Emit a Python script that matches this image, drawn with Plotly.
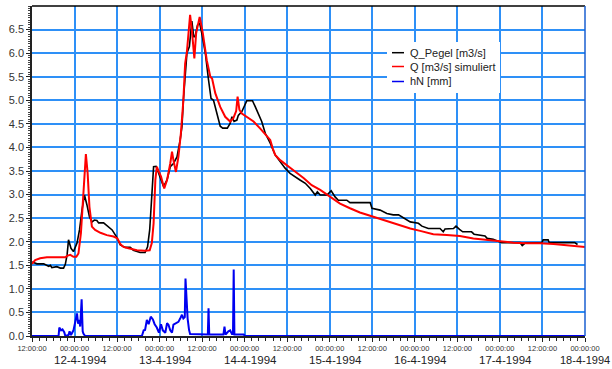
import pandas as pd
import plotly.graph_objects as go

START = pd.Timestamp("1994-04-11 12:00")

# hours since 11-4-1994 12:00
pegel_hours = [0, 1.4, 3.3, 4.7, 5.2, 5.6, 7.0, 8.0, 8.9, 9.4, 9.9, 10.3, 11.0, 11.7, 12.7, 13.4, 14.1,
               14.8, 15.5, 16.2, 16.9, 17.6, 18.3, 18.8, 20.2, 21.1, 22.6, 23.8, 24.9, 26.3, 27.7, 28.6,
               30.5, 31.9, 32.6, 33.2, 33.8, 34.3, 35.0, 35.7, 36.4, 37.1, 38.1, 39.0, 39.9, 40.9, 41.8,
               42.3, 42.7, 43.2, 43.7, 44.4, 45.1, 45.6, 46.0, 46.7, 47.3, 47.9, 48.9, 49.8, 50.5, 51.2,
               52.2, 53.1, 53.8, 55.1, 55.9, 56.4, 57.0, 57.8, 58.2, 59.2, 60.6, 62.2, 63.0, 63.9, 64.8,
               65.8, 67.2, 68.6, 70.0, 71.4, 72.8, 74.2, 75.6, 77.1, 78.5, 79.9, 80.5, 81.3, 83.2, 84.4,
               85.5, 86.4, 88.8, 89.7, 95.4, 95.9, 98.2, 100.1, 101.9, 103.4, 104.6, 106.7, 109.0, 110.0,
               111.8, 115.1, 116.0, 116.5, 118.9, 119.6, 120.6, 121.5, 124.0, 124.7, 127.8, 128.4, 130.1,
               132.5, 137.7, 138.3, 139.1, 143.8, 144.2, 145.6, 145.9, 153.1, 153.9]
pegel_values = [1.57, 1.53, 1.53, 1.48, 1.50, 1.45, 1.47, 1.44, 1.44, 1.52, 1.72, 2.04, 1.86, 1.79, 1.97,
                2.25, 2.67, 2.99, 2.78, 2.53, 2.42, 2.46, 2.45, 2.40, 2.40, 2.35, 2.25, 2.11, 1.93, 1.88,
                1.88, 1.82, 1.77, 1.77, 1.89, 2.25, 3.00, 3.59, 3.60, 3.45, 3.31, 3.17, 3.31, 3.59, 3.66,
                3.80, 4.16, 4.44, 5.00, 5.57, 6.00, 6.14, 6.68, 6.35, 6.35, 6.60, 6.63, 6.42, 6.00, 5.43,
                5.04, 5.00, 4.72, 4.45, 4.41, 4.41, 4.51, 4.65, 4.55, 4.58, 4.68, 4.76, 4.99, 4.99, 4.86,
                4.72, 4.55, 4.30, 4.09, 3.84, 3.70, 3.56, 3.45, 3.37, 3.31, 3.24, 3.13, 2.99, 3.06, 2.99,
                2.99, 3.08, 2.95, 2.88, 2.88, 2.83, 2.83, 2.71, 2.67, 2.60, 2.57, 2.57, 2.51, 2.42, 2.39,
                2.33, 2.28, 2.28, 2.21, 2.27, 2.28, 2.33, 2.26, 2.21, 2.21, 2.16, 2.12, 2.07, 2.05, 1.98,
                1.98, 1.92, 1.97, 1.98, 2.04, 2.04, 1.98, 1.98, 1.94]

sim_hours = [0, 0.9, 2.3, 4.2, 9.4, 9.9, 10.8, 11.7, 12.5, 13.1, 13.8, 14.4, 14.8, 15.2, 15.7, 16.2, 16.9,
             17.8, 19.3, 21.1, 23.0, 24.1, 24.9, 25.8, 27.2, 29.6, 31.9, 33.2, 33.8, 34.3, 34.8, 35.2,
             36.0, 36.4, 37.3, 38.1, 39.0, 39.5, 39.9, 40.6, 41.3, 42.0, 42.7, 43.2, 43.7, 44.1, 44.6,
             45.1, 45.8, 46.3, 47.3, 48.2, 49.3, 50.3, 50.8, 51.7, 53.1, 54.5, 55.9, 56.8, 57.6, 58.0,
             58.5, 59.2, 60.6, 62.5, 64.4, 66.3, 67.2, 67.9, 68.6, 70.0, 71.9, 74.2, 76.6, 78.9, 81.3,
             84.1, 86.9, 89.7, 92.5, 95.4, 98.2, 101.0, 103.8, 106.7, 109.5, 113.2, 117.0, 120.7, 124.5,
             128.3, 132.0, 135.8, 139.6, 143.3, 147.1, 150.9, 156.0]
sim_values = [1.53, 1.61, 1.65, 1.67, 1.67, 1.70, 1.72, 1.68, 1.68, 1.75, 2.18, 2.88, 3.45, 3.86, 3.45,
              2.74, 2.32, 2.25, 2.19, 2.14, 2.11, 2.07, 1.95, 1.89, 1.86, 1.82, 1.81, 1.82, 1.97, 2.39,
              3.31, 3.59, 3.45, 3.38, 3.13, 3.31, 3.66, 3.91, 3.73, 3.48, 3.80, 4.30, 5.00, 5.78, 6.03,
              6.42, 6.81, 6.49, 5.89, 6.42, 6.77, 6.42, 5.85, 5.50, 5.46, 5.15, 4.86, 4.65, 4.55, 4.62,
              4.77, 5.08, 4.80, 4.72, 4.65, 4.55, 4.40, 4.23, 4.16, 3.98, 3.84, 3.73, 3.63, 3.49, 3.35,
              3.20, 3.10, 2.95, 2.81, 2.71, 2.62, 2.55, 2.48, 2.41, 2.35, 2.28, 2.23, 2.16, 2.14, 2.12,
              2.07, 2.04, 2.00, 1.98, 1.97, 1.97, 1.95, 1.93, 1.89]

rain_hours = [0, 7.5, 7.7, 8.2, 8.6, 9.1, 9.4, 10.3, 10.6, 11.0, 11.7, 12.2, 12.7, 13.0, 13.3, 13.6, 14.0,
              14.3, 14.5, 15.0, 31.0, 31.5, 31.9, 32.4, 32.9, 33.5, 34.1, 34.6, 35.2, 35.8, 36.4, 36.9,
              37.6, 38.1, 38.5, 39.0, 39.5, 39.9, 40.7, 41.3, 41.8, 42.3, 42.7, 43.1, 43.3, 43.5, 43.9,
              44.3, 44.6, 49.6, 49.8, 50.0, 54.0, 54.3, 54.6, 55.4, 55.9, 56.4, 56.7, 56.9, 57.1, 59.7,
              60.1, 156.0]
rain_values = [0, 0, 0.18, 0.12, 0.14, 0.08, 0, 0.02, 0.10, 0.02, 0.12, 0.30, 0.48, 0.26, 0.34, 0.20,
               0.78, 0.10, 0.05, 0, 0, 0.12, 0.13, 0.34, 0.25, 0.41, 0.35, 0.25, 0.18, 0.07, 0.25, 0.12,
               0.07, 0.27, 0.24, 0.12, 0.07, 0.24, 0.27, 0.30, 0.37, 0.45, 0.37, 0.40, 1.22, 0.86, 0.37,
               0.13, 0.04, 0.03, 0.59, 0.03, 0.03, 0.20, 0.03, 0.10, 0.12, 0.04, 0.04, 1.41, 0.03, 0.03,
               0, 0]

tick_hours = list(range(0, 157, 12))
tick_labels = ["12:00:00" if h % 24 == 0 else "00:00:00" for h in tick_hours]
date_hours = [12, 36, 60, 84, 108, 132, 156]
date_labels = ["12-4-1994", "13-4-1994", "14-4-1994", "15-4-1994", "16-4-1994", "17-4-1994", "18-4-1994"]
y_ticks = [0.0, 0.5, 1.0, 1.5, 2.0, 2.5, 3.0, 3.5, 4.0, 4.5, 5.0, 5.5, 6.0, 6.5]

series_names = ["Q_Pegel [m3/s]", "Q [m3/s] simuliert", "hN [mm]"]
series_colors = ["#000000", "#ff0000", "#0000f0"]


def to_time(hours):
    return [START + pd.Timedelta(hours=h) for h in hours]


FONT = "Liberation Sans, Arial, sans-serif"
GRID = "#2e90f7"

fig = go.Figure()
fig.add_trace(go.Scatter(x=to_time(pegel_hours), y=pegel_values, mode="lines",
                         line=dict(color=series_colors[0], width=1.6, shape="linear"),
                         name=series_names[0], showlegend=False))
fig.add_trace(go.Scatter(x=to_time(sim_hours), y=sim_values, mode="lines",
                         line=dict(color=series_colors[1], width=2), name=series_names[1],
                         showlegend=False))
fig.add_trace(go.Scatter(x=to_time(rain_hours), y=rain_values, mode="lines",
                         line=dict(color=series_colors[2], width=2), name=series_names[2],
                         showlegend=False, cliponaxis=False))

fig.update_layout(
    width=612, height=369,
    margin=dict(l=32, r=27, t=6, b=33),
    paper_bgcolor="white", plot_bgcolor="white",
    font=dict(family=FONT, color="#333"),
)

fig.update_xaxes(
    type="date",
    range=[START, START + pd.Timedelta(hours=156)],
    tickvals=to_time(tick_hours), ticktext=tick_labels,
    tickfont=dict(size=7.5, color="#333"),
    ticks="outside", ticklen=4, tickcolor="#222", tickwidth=1,
    showgrid=True, gridcolor=GRID, gridwidth=1.6,
    showline=True, linecolor="#222", linewidth=1.5,
    minor=dict(dtick=2 * 3600000, tick0=START, ticks="outside", ticklen=3,
               tickcolor="#222", showgrid=False),
    zeroline=False,
)
fig.update_yaxes(
    range=[0, 7.0],
    tickvals=y_ticks, ticktext=[f"{v:.1f}" for v in y_ticks],
    tickfont=dict(size=11, color="#333"),
    ticks="outside", ticklen=4, tickcolor="#222",
    showgrid=True, gridcolor=GRID, gridwidth=1.6,
    showline=True, linecolor="#222", linewidth=1.5,
    minor=dict(dtick=0.05, ticks="outside", ticklen=2.5, tickcolor="#444", showgrid=False),
    zeroline=False,
)

# plot frame (top and right)
fig.add_shape(type="line", xref="paper", yref="paper", x0=0, x1=1, y0=1, y1=1,
              line=dict(color="black", width=1.5))
fig.add_shape(type="line", xref="paper", yref="paper", x0=1, x1=1, y0=0, y1=1,
              line=dict(color="#1a5fd0", width=1.5))

# date labels under midnight ticks
for h, lab in zip(date_hours, date_labels):
    shift = 5.5 if h < 156 else 0
    fig.add_annotation(x=START + pd.Timedelta(hours=h), y=-0.0727, xref="x", yref="paper",
                       text=lab, showarrow=False, xanchor="center", yanchor="middle",
                       xshift=shift, font=dict(size=11.5 if h < 156 else 11, color="#222", family=FONT))

# legend box
W, H = 553.0, 330.0
def px(x):
    return (x - 32) / W
def py(y):
    return (336 - y) / H

fig.add_shape(type="rect", xref="paper", yref="paper", x0=px(387), x1=px(500), y0=py(93), y1=py(42),
              fillcolor="white", line=dict(width=0), layer="above")
rows = [52.7, 66.5, 81.5]
for name, col, ry in zip(series_names, series_colors, rows):
    fig.add_shape(type="line", xref="paper", yref="paper", x0=px(392), x1=px(404), y0=py(ry), y1=py(ry),
                  line=dict(color=col, width=1.5), layer="above")
    fig.add_annotation(x=px(407.5), y=py(ry), xref="paper", yref="paper", text=name, showarrow=False,
                       xanchor="left", yanchor="middle", font=dict(size=11, color="#222", family=FONT))

fig.write_html("out.html", config={"displayModeBar": False},
               post_script="document.body.style.margin='0';document.body.style.overflow='hidden';")
